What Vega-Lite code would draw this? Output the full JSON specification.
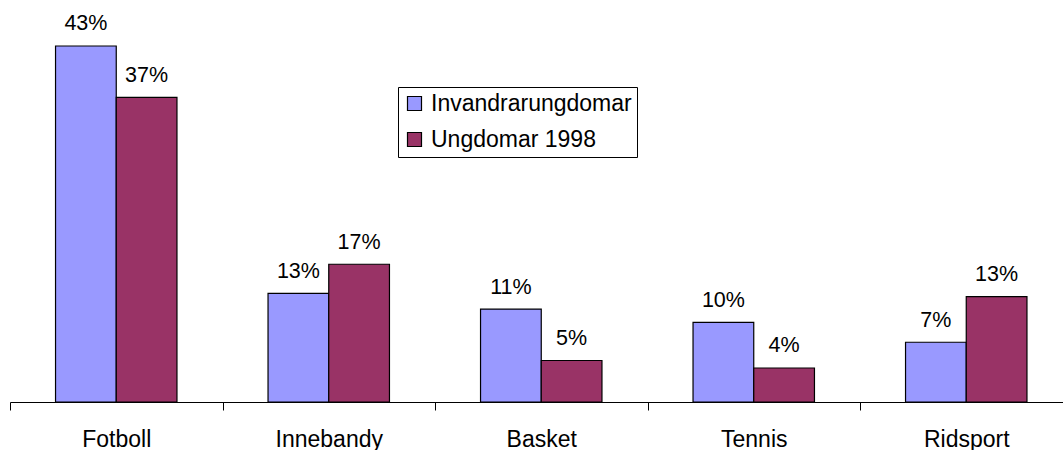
{
  "$schema": "https://vega.github.io/schema/vega-lite/v6.json",
  "width": 1053,
  "height": 400,
  "autosize": {"type": "none"},
  "padding": {"left": 10, "top": 2, "right": 0, "bottom": 48},
  "background": "white",
  "config": {"view": {"stroke": null}, "font": "Liberation Sans"},
  "data": {
    "values": [
      {"sport": "Fotboll", "group": "Invandrarungdomar", "value": 0.429},
      {"sport": "Fotboll", "group": "Ungdomar 1998", "value": 0.367},
      {"sport": "Innebandy", "group": "Invandrarungdomar", "value": 0.131},
      {"sport": "Innebandy", "group": "Ungdomar 1998", "value": 0.166},
      {"sport": "Basket", "group": "Invandrarungdomar", "value": 0.112},
      {"sport": "Basket", "group": "Ungdomar 1998", "value": 0.050},
      {"sport": "Tennis", "group": "Invandrarungdomar", "value": 0.096},
      {"sport": "Tennis", "group": "Ungdomar 1998", "value": 0.041},
      {"sport": "Ridsport", "group": "Invandrarungdomar", "value": 0.072},
      {"sport": "Ridsport", "group": "Ungdomar 1998", "value": 0.127}
    ]
  },
  "encoding": {
    "x": {
      "field": "sport",
      "type": "nominal",
      "sort": ["Fotboll", "Innebandy", "Basket", "Tennis", "Ridsport"],
      "scale": {"range": [0, 1062.5], "paddingInner": 0, "paddingOuter": 0},
      "axis": {
        "title": null,
        "labelAngle": 0,
        "tickBand": "extent",
        "tickSize": 8,
        "tickColor": "black",
        "tickWidth": 1,
        "domainColor": "black",
        "domainWidth": 1,
        "labelColor": "black",
        "labelFont": "Liberation Sans",
        "labelFontSize": 23,
        "labelBaseline": "alphabetic",
        "labelPadding": 36,
        "labelLimit": 300,
        "grid": false
      }
    },
    "xOffset": {
      "field": "group",
      "type": "nominal",
      "sort": ["Invandrarungdomar", "Ungdomar 1998"],
      "scale": {"paddingInner": 0, "paddingOuter": 0.75}
    },
    "y": {
      "field": "value",
      "type": "quantitative",
      "scale": {"domain": [0, 0.482], "nice": false},
      "axis": null
    }
  },
  "layer": [
    {
      "mark": {"type": "bar", "stroke": "black", "strokeWidth": 1.2, "opacity": 1},
      "encoding": {
        "color": {
          "field": "group",
          "type": "nominal",
          "sort": ["Invandrarungdomar", "Ungdomar 1998"],
          "scale": {"domain": ["Invandrarungdomar", "Ungdomar 1998"], "range": ["#9999FF", "#993366"]},
          "legend": {
            "title": null,
            "orient": "none",
            "legendX": 388,
            "legendY": 85,
            "direction": "vertical",
            "strokeColor": "black",
            "fillColor": "white",
            "padding": 5,
            "symbolType": "square",
            "symbolSize": 196,
            "symbolStrokeColor": "black",
            "symbolStrokeWidth": 1.2,
            "symbolOpacity": 1,
            "labelFontSize": 23,
            "labelFont": "Liberation Sans",
            "labelColor": "black",
            "labelLimit": 400,
            "rowPadding": 12,
            "labelOffset": 5
          }
        }
      }
    },
    {
      "mark": {"type": "text", "baseline": "alphabetic", "dy": -15.5, "fontSize": 21.5, "color": "black", "font": "Liberation Sans"},
      "encoding": {
        "text": {"field": "value", "type": "quantitative", "format": ".0%"}
      }
    }
  ]
}
